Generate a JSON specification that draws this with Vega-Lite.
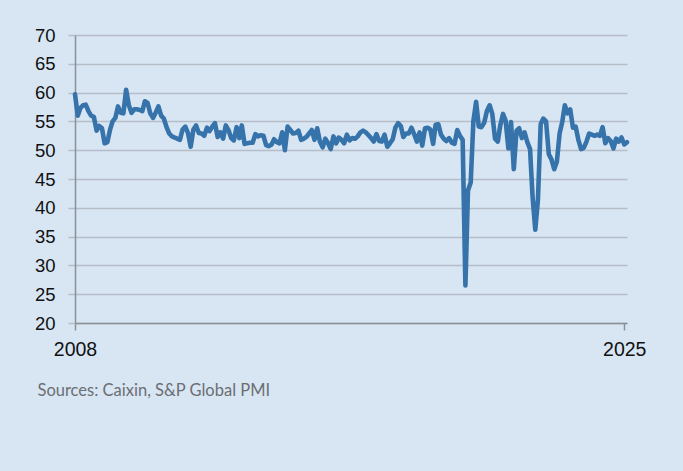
{
  "$schema": "https://vega.github.io/schema/vega-lite/v6.json",
  "width": 552,
  "height": 288,
  "autosize": {"type": "none"},
  "padding": {"left": 75, "top": 35, "right": 56, "bottom": 148},
  "background": "#d8e6f4",
  "config": {
    "view": {"stroke": null},
    "axis": {"labelFont": "Liberation Sans", "labelColor": "#111111"}
  },
  "data": {
    "values": [
      {"d":"2008-01","v":59.7},{"d":"2008-02","v":56.0},{"d":"2008-03","v":57.3},{"d":"2008-04","v":57.8},{"d":"2008-05","v":57.9},{"d":"2008-06","v":56.8},{"d":"2008-07","v":56.0},{"d":"2008-08","v":55.8},{"d":"2008-09","v":53.4},{"d":"2008-10","v":54.2},{"d":"2008-11","v":53.8},{"d":"2008-12","v":51.2},
      {"d":"2009-01","v":51.4},{"d":"2009-02","v":53.6},{"d":"2009-03","v":55.0},{"d":"2009-04","v":55.6},{"d":"2009-05","v":57.6},{"d":"2009-06","v":56.5},{"d":"2009-07","v":56.4},{"d":"2009-08","v":60.5},{"d":"2009-09","v":57.8},{"d":"2009-10","v":56.5},{"d":"2009-11","v":57.1},{"d":"2009-12","v":57.1},
      {"d":"2010-01","v":57.0},{"d":"2010-02","v":56.8},{"d":"2010-03","v":58.5},{"d":"2010-04","v":58.2},{"d":"2010-05","v":56.4},{"d":"2010-06","v":55.6},{"d":"2010-07","v":56.5},{"d":"2010-08","v":57.6},{"d":"2010-09","v":56.0},{"d":"2010-10","v":55.5},{"d":"2010-11","v":54.0},{"d":"2010-12","v":52.9},
      {"d":"2011-01","v":52.4},{"d":"2011-02","v":52.2},{"d":"2011-03","v":52.0},{"d":"2011-04","v":51.8},{"d":"2011-05","v":53.6},{"d":"2011-06","v":54.1},{"d":"2011-07","v":53.0},{"d":"2011-08","v":50.6},{"d":"2011-09","v":53.6},{"d":"2011-10","v":54.3},{"d":"2011-11","v":53.0},{"d":"2011-12","v":52.9},
      {"d":"2012-01","v":52.5},{"d":"2012-02","v":53.9},{"d":"2012-03","v":53.3},{"d":"2012-04","v":54.1},{"d":"2012-05","v":54.7},{"d":"2012-06","v":52.3},{"d":"2012-07","v":53.1},{"d":"2012-08","v":52.0},{"d":"2012-09","v":54.3},{"d":"2012-10","v":53.5},{"d":"2012-11","v":52.1},{"d":"2012-12","v":51.7},
      {"d":"2013-01","v":54.0},{"d":"2013-02","v":52.1},{"d":"2013-03","v":54.3},{"d":"2013-04","v":51.1},{"d":"2013-05","v":51.2},{"d":"2013-06","v":51.3},{"d":"2013-07","v":51.3},{"d":"2013-08","v":52.8},{"d":"2013-09","v":52.4},{"d":"2013-10","v":52.6},{"d":"2013-11","v":52.5},{"d":"2013-12","v":50.9},
      {"d":"2014-01","v":50.7},{"d":"2014-02","v":51.0},{"d":"2014-03","v":51.9},{"d":"2014-04","v":51.4},{"d":"2014-05","v":51.2},{"d":"2014-06","v":53.1},{"d":"2014-07","v":50.0},{"d":"2014-08","v":54.1},{"d":"2014-09","v":53.5},{"d":"2014-10","v":52.9},{"d":"2014-11","v":53.0},{"d":"2014-12","v":53.4},
      {"d":"2015-01","v":51.8},{"d":"2015-02","v":52.0},{"d":"2015-03","v":52.3},{"d":"2015-04","v":52.9},{"d":"2015-05","v":53.5},{"d":"2015-06","v":51.8},{"d":"2015-07","v":53.8},{"d":"2015-08","v":51.5},{"d":"2015-09","v":50.5},{"d":"2015-10","v":52.0},{"d":"2015-11","v":51.2},{"d":"2015-12","v":50.2},
      {"d":"2016-01","v":52.4},{"d":"2016-02","v":51.2},{"d":"2016-03","v":52.2},{"d":"2016-04","v":51.8},{"d":"2016-05","v":51.2},{"d":"2016-06","v":52.7},{"d":"2016-07","v":51.7},{"d":"2016-08","v":52.1},{"d":"2016-09","v":52.0},{"d":"2016-10","v":52.4},{"d":"2016-11","v":53.1},{"d":"2016-12","v":53.4},
      {"d":"2017-01","v":53.1},{"d":"2017-02","v":52.6},{"d":"2017-03","v":52.1},{"d":"2017-04","v":51.5},{"d":"2017-05","v":52.8},{"d":"2017-06","v":51.6},{"d":"2017-07","v":51.5},{"d":"2017-08","v":52.7},{"d":"2017-09","v":50.6},{"d":"2017-10","v":51.2},{"d":"2017-11","v":51.9},{"d":"2017-12","v":53.9},
      {"d":"2018-01","v":54.7},{"d":"2018-02","v":54.2},{"d":"2018-03","v":52.3},{"d":"2018-04","v":52.9},{"d":"2018-05","v":52.9},{"d":"2018-06","v":53.9},{"d":"2018-07","v":52.8},{"d":"2018-08","v":51.5},{"d":"2018-09","v":53.1},{"d":"2018-10","v":50.8},{"d":"2018-11","v":53.8},{"d":"2018-12","v":53.9},
      {"d":"2019-01","v":53.6},{"d":"2019-02","v":51.1},{"d":"2019-03","v":54.4},{"d":"2019-04","v":54.5},{"d":"2019-05","v":52.7},{"d":"2019-06","v":52.0},{"d":"2019-07","v":51.6},{"d":"2019-08","v":52.1},{"d":"2019-09","v":51.3},{"d":"2019-10","v":51.1},{"d":"2019-11","v":53.5},{"d":"2019-12","v":52.5},
      {"d":"2020-01","v":51.8},{"d":"2020-02","v":26.5},{"d":"2020-03","v":43.0},{"d":"2020-04","v":44.4},{"d":"2020-05","v":55.0},{"d":"2020-06","v":58.4},{"d":"2020-07","v":54.1},{"d":"2020-08","v":54.0},{"d":"2020-09","v":54.8},{"d":"2020-10","v":56.8},{"d":"2020-11","v":57.8},{"d":"2020-12","v":56.3},
      {"d":"2021-01","v":52.0},{"d":"2021-02","v":51.5},{"d":"2021-03","v":54.3},{"d":"2021-04","v":56.3},{"d":"2021-05","v":55.1},{"d":"2021-06","v":50.3},{"d":"2021-07","v":54.9},{"d":"2021-08","v":46.7},{"d":"2021-09","v":53.4},{"d":"2021-10","v":53.8},{"d":"2021-11","v":52.1},{"d":"2021-12","v":53.1},
      {"d":"2022-01","v":51.4},{"d":"2022-02","v":50.2},{"d":"2022-03","v":42.0},{"d":"2022-04","v":36.2},{"d":"2022-05","v":41.4},{"d":"2022-06","v":54.5},{"d":"2022-07","v":55.5},{"d":"2022-08","v":55.0},{"d":"2022-09","v":49.3},{"d":"2022-10","v":48.4},{"d":"2022-11","v":46.7},{"d":"2022-12","v":48.0},
      {"d":"2023-01","v":52.9},{"d":"2023-02","v":55.0},{"d":"2023-03","v":57.8},{"d":"2023-04","v":56.4},{"d":"2023-05","v":57.1},{"d":"2023-06","v":53.9},{"d":"2023-07","v":54.1},{"d":"2023-08","v":51.8},{"d":"2023-09","v":50.2},{"d":"2023-10","v":50.4},{"d":"2023-11","v":51.5},{"d":"2023-12","v":52.9},
      {"d":"2024-01","v":52.7},{"d":"2024-02","v":52.5},{"d":"2024-03","v":52.7},{"d":"2024-04","v":52.5},{"d":"2024-05","v":54.0},{"d":"2024-06","v":51.2},{"d":"2024-07","v":52.1},{"d":"2024-08","v":51.6},{"d":"2024-09","v":50.3},{"d":"2024-10","v":52.0},{"d":"2024-11","v":51.5},{"d":"2024-12","v":52.2},
      {"d":"2025-01","v":51.0},{"d":"2025-02","v":51.4}
    ]
  },
  "mark": {"type": "line", "color": "#3673aa", "strokeWidth": 4.6, "strokeJoin": "round", "strokeCap": "round", "clip": false},
  "encoding": {
    "x": {
      "field": "d",
      "type": "temporal",
      "scale": {"type": "utc", "domain": [{"year": 2008, "month": 1, "date": 1, "utc": true}, {"year": 2025, "month": 2, "date": 1, "utc": true}]},
      "axis": {
        "values": [{"year": 2008, "month": 1, "date": 1, "utc": true}, {"year": 2025, "month": 1, "date": 1, "utc": true}],
        "format": "%Y",
        "formatType": "utc",
        "grid": false,
        "labelFontSize": 19.5,
        "labelPadding": 10,
        "labelAlign": "center",
        "labelFlush": false,
        "labelOverlap": false,
        "tickSize": 7,
        "tickWidth": 1.5,
        "tickColor": "#8a9097",
        "domainColor": "#8a9097",
        "domainWidth": 1.5,
        "title": "Sources: Caixin, S&P Global PMI",
        "titleFont": "Lato",
        "titleFontSize": 16.5,
        "titleFontWeight": "normal",
        "titleColor": "#6b6e72",
        "titleX": -38,
        "titleY": 72.5,
        "titleAlign": "left",
        "titleAnchor": null,
        "titleBaseline": "alphabetic"
      }
    },
    "y": {
      "field": "v",
      "type": "quantitative",
      "scale": {"domain": [20, 70], "nice": false, "zero": false},
      "axis": {
        "values": [20, 25, 30, 35, 40, 45, 50, 55, 60, 65, 70],
        "title": null,
        "labelFontSize": 18.5,
        "labelPadding": 13,
        "tickSize": 7,
        "tickWidth": 1.5,
        "tickColor": "#b5bdc6",
        "grid": true,
        "gridColor": "#b5bdc6",
        "gridWidth": 1.5,
        "domainColor": "#8a9097",
        "domainWidth": 1.5
      }
    }
  }
}
